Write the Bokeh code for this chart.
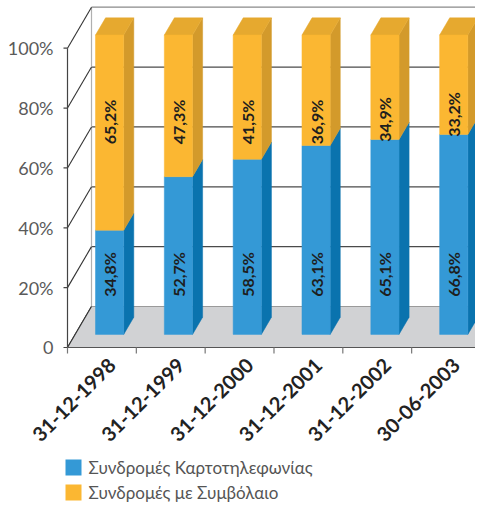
import numpy as np
from bokeh.plotting import figure
from bokeh.models import Range1d, ColumnDataSource
from bokeh.embed import file_html
from bokeh.resources import INLINE
from bokeh.core.properties import value

# ---------------- data ----------------
categories = ["31-12-1998", "31-12-1999", "31-12-2000", "31-12-2001", "31-12-2002", "30-06-2003"]
prepaid = [34.8, 52.7, 58.5, 63.1, 65.1, 66.8]      # Συνδρομές Καρτοτηλεφωνίας
contract = [65.2, 47.3, 41.5, 36.9, 34.9, 33.2]     # Συνδρομές με Συμβόλαιο
y_ticks = [0, 20, 40, 60, 80, 100]
y_tick_labels = ["0", "20%", "40%", "60%", "80%", "100%"]
series_names = ["Συνδρομές Καρτοτηλεφωνίας", "Συνδρομές με Συμβόλαιο"]

# ---------------- geometry ----------------
W, H = 475, 504
SX = 68.83     # px per category unit
SY = 2.993     # px per percent
FX0 = 67       # px (from left) of x = 0
FY0 = 347      # px (from top) of y = 0
DX, DY = 24 / SX, 41 / SY        # full depth offset in data units
BF0, BF1 = 0.32, 0.74            # bar front/back depth fraction
HW = 0.205                       # bar half width
N = len(categories)

def dx_px(px):
    return px / SX

def dy_px(px):
    return px / SY

def x_at(fx):
    return (fx - FX0) / SX

def y_at(fy):
    return (FY0 - fy) / SY

BLUE, BLUE_SIDE = "#3499d6", "#0a73ae"
ORANGE, ORANGE_SIDE, ORANGE_TOP = "#fbb732", "#d39a2b", "#e6a92f"
FLOOR = "#d1d2d4"

p = figure(width=W, height=H, x_range=Range1d(-FX0 / SX, (W - FX0) / SX),
           y_range=Range1d(-(H - FY0) / SY, FY0 / SY),
           x_axis_location=None, y_axis_location=None,
           toolbar_location=None, output_backend="svg", min_border=0,
           outline_line_color=None, background_fill_color="white")
p.grid.visible = False

# ---------------- walls ----------------
xr = N + DX
gl_y = [DY + v for v in y_ticks[1:]]
p.segment(x0=[DX] * (len(gl_y) - 1), y0=gl_y[:-1], x1=[xr + 2] * (len(gl_y) - 1), y1=gl_y[:-1],
          line_color="#4a4a4a", line_width=1.2)
p.segment(x0=[DX], y0=[gl_y[-1]], x1=[xr + 2], y1=[gl_y[-1]], line_color="#8a8a8a", line_width=1.2)
p.segment(x0=[DX], y0=[DY], x1=[DX], y1=[DY + y_ticks[-1]], line_color="#b0b0b0", line_width=1.2)
p.segment(x0=[0] * len(y_ticks), y0=y_ticks, x1=[DX] * len(y_ticks),
          y1=[DY + v for v in y_ticks], line_color="#333333", line_width=1.1)

# floor
p.patch(x=[0, N, N + DX, DX], y=[0, 0, DY, DY], fill_color=FLOOR, line_color=None)
p.segment(x0=[DX], y0=[DY], x1=[N + DX], y1=[DY], line_color="#9a9a9a", line_width=1.2)
p.segment(x0=[0, N], y0=[0, 0], x1=[DX, N + DX], y1=[DY, DY], line_color="#333333", line_width=1.1)
p.segment(x0=[0], y0=[0], x1=[N], y1=[0], line_color="#555555", line_width=1.2)

# front y axis line, ticks and labels
p.segment(x0=[0], y0=[0], x1=[0], y1=[y_ticks[-1]], line_color="#444444", line_width=1.2)
p.segment(x0=[-dx_px(4)] * len(y_ticks), y0=y_ticks, x1=[0] * len(y_ticks), y1=y_ticks,
          line_color="#444444", line_width=1.2)
p.text(x=[-dx_px(14)] * len(y_ticks), y=y_ticks, text=y_tick_labels, text_align="right",
       text_baseline="middle", text_font=value("Lato"), text_font_size="18px", text_color="#5a5a5a")

# x ticks
xt = list(range(N + 1))
p.segment(x0=xt, y0=[0] * len(xt), x1=xt, y1=[-dy_px(6)] * len(xt), line_color="#777777", line_width=1.2)

# ---------------- bars ----------------
ox0, oy0 = BF0 * DX, BF0 * DY
ox1, oy1 = BF1 * DX, BF1 * DY
dd = ox1 - ox0
front_b = dict(xs=[], ys=[]); side_b = dict(xs=[], ys=[])
front_o = dict(xs=[], ys=[]); side_o = dict(xs=[], ys=[]); top_o = dict(xs=[], ys=[])
for i in range(N):
    c = i + 0.5
    b = prepaid[i]
    t = prepaid[i] + contract[i]
    xl, xrr = c - HW + ox0, c + HW + ox0
    front_b["xs"].append([xl, xrr, xrr, xl]); front_b["ys"].append([oy0, oy0, oy0 + b, oy0 + b])
    side_b["xs"].append([xrr, xrr + dd, xrr + dd, xrr])
    side_b["ys"].append([oy0, oy1, oy1 + b, oy0 + b])
    front_o["xs"].append([xl, xrr, xrr, xl]); front_o["ys"].append([oy0 + b, oy0 + b, oy0 + t, oy0 + t])
    side_o["xs"].append([xrr, xrr + dd, xrr + dd, xrr])
    side_o["ys"].append([oy0 + b, oy1 + b, oy1 + t, oy0 + t])
    top_o["xs"].append([xl, xrr, xrr + dd, xl + dd])
    top_o["ys"].append([oy0 + t, oy0 + t, oy1 + t, oy1 + t])

p.patches(xs="xs", ys="ys", source=ColumnDataSource(side_b), fill_color=BLUE_SIDE, line_color=BLUE_SIDE, line_width=0.5)
p.patches(xs="xs", ys="ys", source=ColumnDataSource(side_o), fill_color=ORANGE_SIDE, line_color=ORANGE_SIDE, line_width=0.5)
p.patches(xs="xs", ys="ys", source=ColumnDataSource(top_o), fill_color=ORANGE_TOP, line_color=ORANGE_TOP, line_width=0.5)
p.patches(xs="xs", ys="ys", source=ColumnDataSource(front_b), fill_color=BLUE, line_color=BLUE, line_width=0.5)
p.patches(xs="xs", ys="ys", source=ColumnDataSource(front_o), fill_color=ORANGE, line_color=ORANGE, line_width=0.5)

# value labels
def fmt(v):
    return ("%.1f" % v).replace(".", ",") + "%"

lx = [i + 0.5 + ox0 for i in range(N)]
p.text(x=lx, y=[oy0 + 20] * N, text=[fmt(v) for v in prepaid], angle=np.pi / 2,
       text_align="center", text_baseline="middle", text_font=value("Lato"),
       text_font_style="bold", text_font_size="16px", text_color="#1e1e1e")
p.text(x=lx, y=[oy0 + max(71, b + 6.7) for b in prepaid], text=[fmt(v) for v in contract],
       angle=np.pi / 2, text_align="center", text_baseline="middle",
       text_font=value("Lato"), text_font_style="bold",
       text_font_size="16px", text_color="#1e1e1e")

# category labels
p.text(x=[i + 0.5 + dx_px(10) for i in range(N)], y=[-dy_px(14)] * N, text=categories, angle=np.pi / 4,
       text_align="right", text_baseline="middle", text_font=value("Lato"),
       text_font_style="bold", text_font_size="20px", text_color="#222222")

# ---------------- legend ----------------
sq_x = x_at(73)
tx = x_at(88)
ly = [y_at(467), y_at(492)]
p.scatter(x=[sq_x, sq_x], y=ly, marker="square", size=16, fill_color=[BLUE, ORANGE], line_color=None)
p.text(x=[tx, tx], y=ly, text=series_names, text_align="left", text_baseline="middle",
       text_font=value("Lato"), text_font_size="17px", text_color="#555555")

open("out.html", "w").write(file_html(p, INLINE))
